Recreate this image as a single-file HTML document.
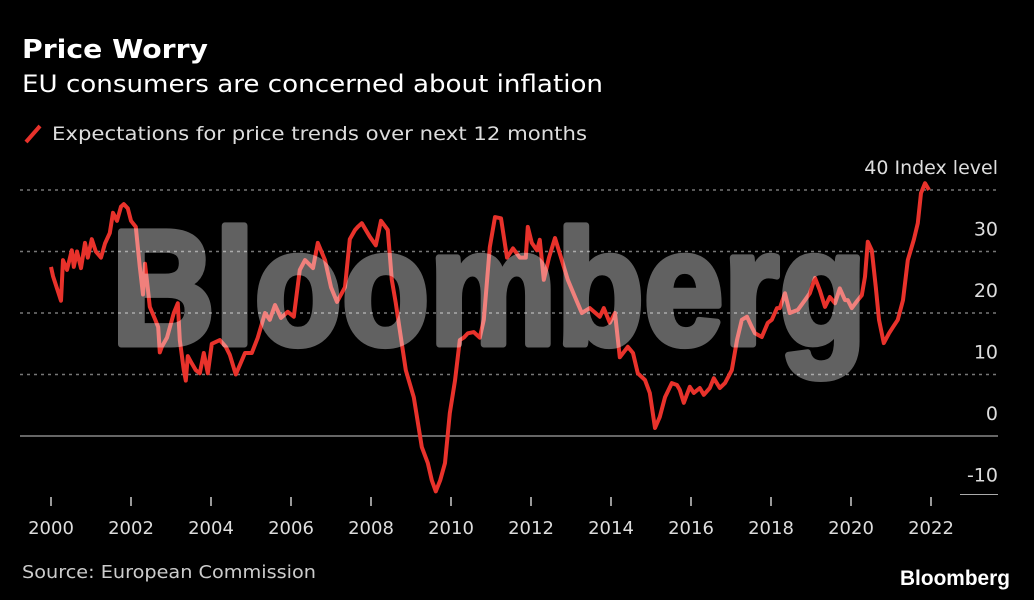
<!DOCTYPE html>
<html><head><meta charset="utf-8"><style>
body{margin:0;background:#000;width:1034px;height:600px;overflow:hidden;font-family:"DejaVu Sans","Liberation Sans",sans-serif;color:#fff}
svg{position:absolute;left:0;top:0;font-family:"DejaVu Sans","Liberation Sans",sans-serif}
</style></head><body>
<svg width="1034" height="600">
<text x="22" y="58" font-size="26" font-weight="bold" fill="#fff" textLength="186" lengthAdjust="spacingAndGlyphs">Price Worry</text>
<text x="22" y="92" font-size="24" fill="#fff" textLength="581" lengthAdjust="spacingAndGlyphs">EU consumers are concerned about inflation</text>
<line x1="26" y1="142" x2="40" y2="126" stroke="#e8322b" stroke-width="4"/>
<text x="52" y="140" font-size="19" fill="#ddd" textLength="535" lengthAdjust="spacingAndGlyphs">Expectations for price trends over next 12 months</text>
<g id="grid"></g>
<g id="axes"></g>
<path id="line" fill="none" stroke="#e8322b" stroke-width="4" stroke-linejoin="round"/>
<g opacity="0.38">
<text x="489" y="344" font-size="163" font-weight="bold" fill="#fff" stroke="#fff" stroke-width="7" stroke-linejoin="round" textLength="755" lengthAdjust="spacingAndGlyphs" text-anchor="middle" style="font-family:'Liberation Sans',sans-serif">Bloomberg</text>
</g>
<text x="22" y="578" font-size="18" fill="#ccc" textLength="294" lengthAdjust="spacingAndGlyphs">Source: European Commission</text>
<text x="1010" y="585" font-size="21" font-weight="bold" fill="#fff" text-anchor="end" textLength="110" lengthAdjust="spacingAndGlyphs" style="font-family:'Liberation Sans',sans-serif">Bloomberg</text>
</svg>
<script>
const dates=[2000,2000.05,2000.25,2000.3,2000.4,2000.52,2000.57,2000.65,2000.75,2000.85,2000.92,2001.02,2001.12,2001.25,2001.35,2001.47,2001.55,2001.65,2001.75,2001.82,2001.92,2002,2002.12,2002.22,2002.3,2002.35,2002.42,2002.47,2002.6,2002.68,2002.72,2002.77,2002.9,2003.07,2003.17,2003.22,2003.32,2003.37,2003.42,2003.52,2003.62,2003.72,2003.82,2003.92,2004.02,2004.22,2004.37,2004.47,2004.62,2004.85,2005.02,2005.17,2005.35,2005.47,2005.6,2005.75,2005.92,2006.07,2006.22,2006.35,2006.55,2006.67,2006.85,2007,2007.15,2007.35,2007.47,2007.6,2007.67,2007.77,2007.97,2008.12,2008.25,2008.42,2008.52,2008.62,2008.72,2008.87,2009.07,2009.27,2009.42,2009.52,2009.62,2009.73,2009.85,2009.97,2010.1,2010.22,2010.32,2010.42,2010.57,2010.72,2010.82,2010.97,2011.1,2011.25,2011.4,2011.55,2011.72,2011.87,2011.92,2012.02,2012.15,2012.22,2012.32,2012.45,2012.6,2012.77,2012.92,2013.1,2013.27,2013.47,2013.72,2013.82,2013.97,2014.1,2014.22,2014.42,2014.55,2014.67,2014.85,2014.97,2015.1,2015.22,2015.35,2015.52,2015.65,2015.72,2015.82,2015.97,2016.07,2016.22,2016.32,2016.47,2016.57,2016.72,2016.85,2017.02,2017.15,2017.27,2017.4,2017.52,2017.6,2017.77,2017.92,2018.02,2018.15,2018.22,2018.35,2018.47,2018.67,2018.85,2018.97,2019.1,2019.22,2019.35,2019.47,2019.6,2019.72,2019.85,2019.92,2020.02,2020.17,2020.27,2020.35,2020.42,2020.52,2020.62,2020.7,2020.82,2020.95,2021.05,2021.17,2021.3,2021.42,2021.57,2021.67,2021.75,2021.85,2021.95];
const values=[27.5,26,22,28.6,27,30.2,27.5,30,27.3,31.4,29,32,30,29,31.3,33,36.3,35,37.3,37.7,37,35,34,27.5,23,28,24,21,19,17.7,13.6,14.5,16,20,21.6,15.6,10.7,9,13,11.8,10.7,10.2,13.5,10.2,15,15.6,14.5,13.2,10,13.5,13.5,16,20,18.9,21.3,19.2,20.2,19.4,27,28.6,27.3,31.4,28.6,24.2,21.8,24.2,32,33.5,34,34.6,32.4,31,35,33.5,25.4,21.6,17.2,10.7,6.3,-1.8,-4.4,-7.2,-9,-7.2,-4.4,3.7,9,15.6,16,16.7,16.9,16,18.9,30.7,35.6,35.4,29,30.5,29,29,34,31.4,30.2,31.9,25.4,29,32.2,28.6,25.4,22.6,20,20.8,19.4,20.8,18.4,20,12.8,14.5,13.5,10.2,9.1,7,1.3,3.1,6.3,8.6,8.3,7.5,5.4,8,7,7.8,6.7,7.8,9.4,7.8,8.6,10.7,15.6,18.9,19.4,17.7,16.7,16.1,18.4,18.9,20.8,20.8,23.2,20,20.5,22.1,23.2,25.7,23.7,21,22.6,21.6,24,22.1,22.1,20.8,22.1,22.9,25.9,31.6,30.2,24.2,18.9,15.1,16.7,17.7,18.9,22.1,28.6,31.9,34.6,39.5,41.1,40,38];
const yTicks=[40,30,20,10,0,-10];
const xTicks=[2000,2002,2004,2006,2008,2010,2012,2014,2016,2018,2020,2022];
const X=d=>51+(d-2000)*40, Y=v=>436-v*6.15;
const NS='http://www.w3.org/2000/svg';
const grid=document.getElementById('grid'), axes=document.getElementById('axes');
function mk(tag,attrs,parent){const e=document.createElementNS(NS,tag);for(const k in attrs)e.setAttribute(k,attrs[k]);parent.appendChild(e);return e;}
yTicks.forEach(v=>{
  const y=Y(v);
  let l;
  if(v===0){l=mk('line',{x1:20,x2:998,y1:y,y2:y,stroke:'#888','stroke-width':1.5},grid);}
  else if(v===-10){l=mk('line',{x1:960,x2:998,y1:y-3,y2:y-3,stroke:'#aaa','stroke-width':1},grid);}
  else{l=mk('line',{x1:20,x2:998,y1:y,y2:y,stroke:'#777','stroke-width':1.5,'stroke-dasharray':'3 4'},grid);}
  
  
  const t=mk('text',{x:998,y:y-16,'font-size':19,fill:'#ddd','text-anchor':'end'},axes);
  t.textContent=v===40?'40 Index level':String(v);
  
  
});
xTicks.forEach(d=>{
  const x=X(d);
  const l=mk('line',{x1:x,x2:x,y1:497,y2:506,stroke:'#ccc','stroke-width':1.5},axes);
  
  
  const t=mk('text',{x:x,y:534,'font-size':18,fill:'#ddd','text-anchor':'middle'},axes);
  t.textContent=String(d);
  
  
});
document.getElementById('line').setAttribute('d',dates.map((d,i)=>(i?'L':'M')+X(d).toFixed(1)+','+Y(values[i]).toFixed(1)).join(''));
</script>
</body></html>
